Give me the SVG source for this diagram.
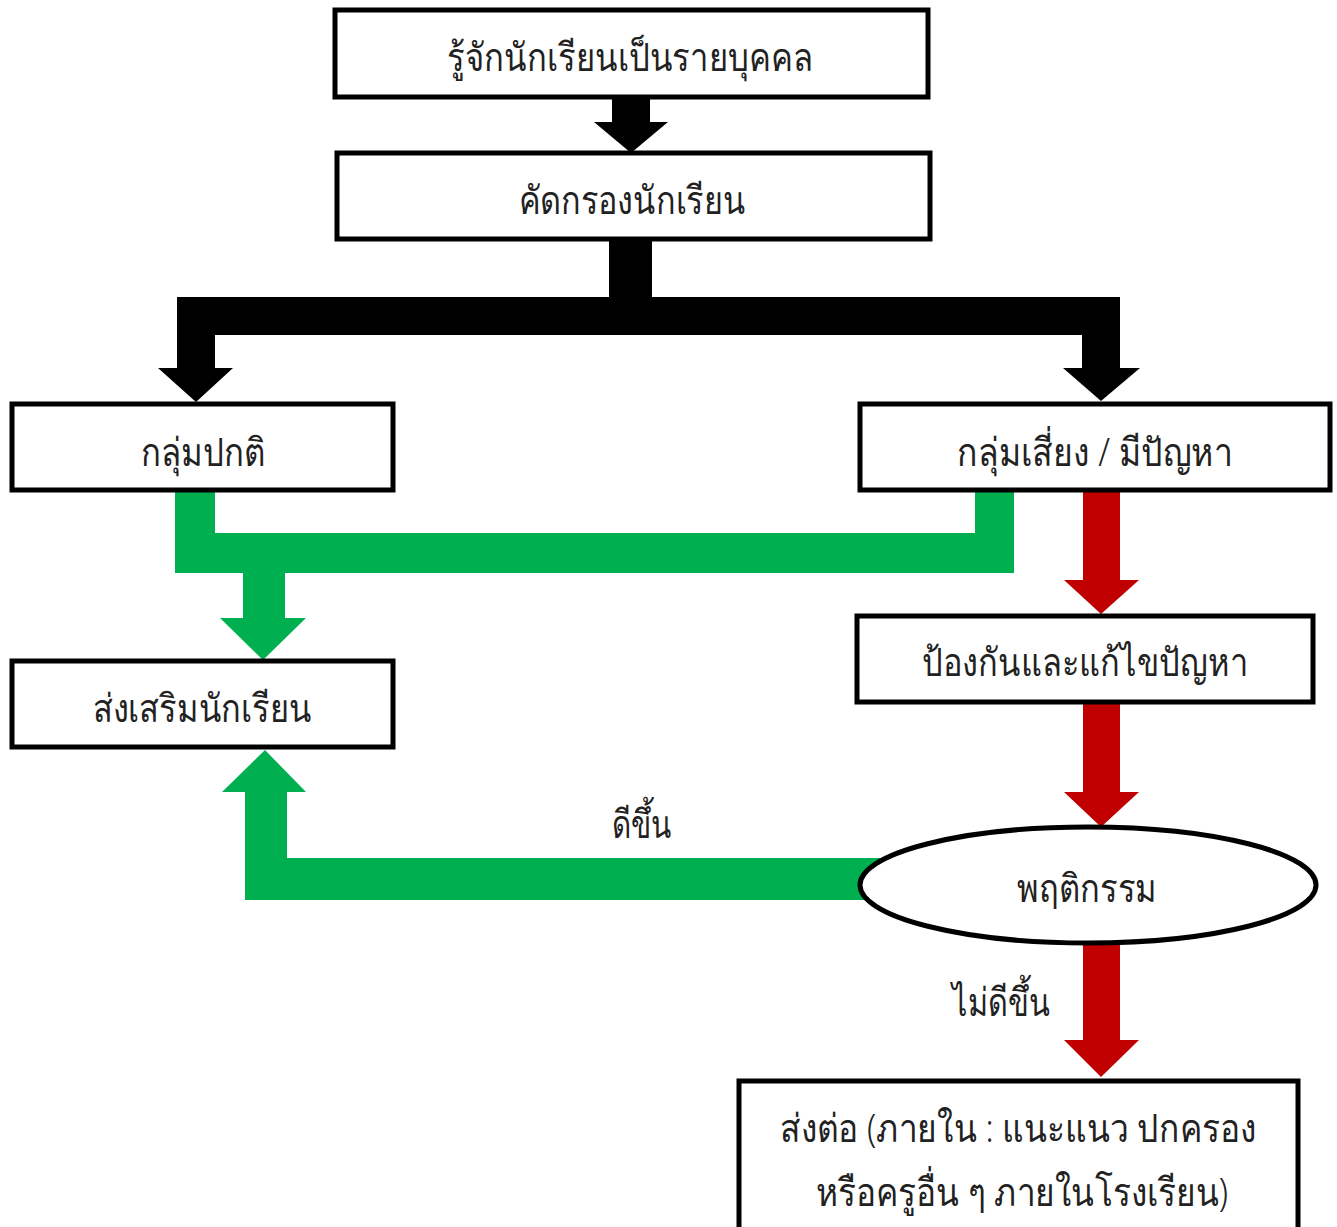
<svg xmlns="http://www.w3.org/2000/svg" width="1337" height="1227" viewBox="0 0 1337 1227">
<style>
.box{fill:#fff;stroke:#000;stroke-width:5}
.t{font-family:"Noto Sans","DejaVu Sans",sans-serif;font-size:39px;font-weight:300;fill:#222;text-anchor:middle;dominant-baseline:central}
.blk{fill:#000}
.grn{fill:#00B050}
.red{fill:#C00000}
</style>
<rect width="1337" height="1227" fill="#fff"/>
<g id="connectors">
<path class="blk" d="M612 97 H650 V122 H668 L631 153 L594 122 H612 Z"/>
<path class="blk" d="M609 239 H652 V297 H1120 V368 H1140 L1101 401 L1063 368 H1082 V335 H215 V368 H233 L196 402 L158 368 H177 V297 H609 Z"/>
<path class="grn" d="M175 490 H215 V533 H975 V490 H1014 V573 H285 V618 H306 L263 660 L220 618 H243 V573 H175 Z"/>
<path class="red" d="M1083 490 H1120 V580 H1139 L1101 614 L1064 580 H1083 Z"/>
<path class="red" d="M1083 702 H1120 V792 H1139 L1101 827 L1064 792 H1083 Z"/>
<path class="red" d="M1083 943 H1120 V1040 H1139 L1101 1077 L1064 1040 H1083 Z"/>
<path class="grn" d="M880 858 V900 H245 V792 H222 L265 750 L306 792 H287 V858 Z"/>
<text class="t" x="642" y="822" textLength="60" lengthAdjust="spacingAndGlyphs">ดีขึ้น</text>
<text class="t" x="1001" y="1000" textLength="98" lengthAdjust="spacingAndGlyphs">ไม่ดีขึ้น</text>
</g>
<g id="n1"><rect class="box" x="335" y="10" width="593" height="87"/><text class="t" x="630" y="55" textLength="366" lengthAdjust="spacingAndGlyphs">รู้จักนักเรียนเป็นรายบุคคล</text></g>
<g id="n2"><rect class="box" x="337" y="153" width="593" height="86"/><text class="t" x="632" y="198" textLength="227" lengthAdjust="spacingAndGlyphs">คัดกรองนักเรียน</text></g>
<g id="n3"><rect class="box" x="12" y="404" width="381" height="86"/><text class="t" x="203" y="450" textLength="125" lengthAdjust="spacingAndGlyphs">กลุ่มปกติ</text></g>
<g id="n4"><rect class="box" x="860" y="404" width="470" height="86"/><text class="t" x="1095" y="450" textLength="276" lengthAdjust="spacingAndGlyphs">กลุ่มเสี่ยง / มีปัญหา</text></g>
<g id="n5"><rect class="box" x="12" y="661" width="381" height="86"/><text class="t" x="202" y="706" textLength="219" lengthAdjust="spacingAndGlyphs">ส่งเสริมนักเรียน</text></g>
<g id="n6"><rect class="box" x="857" y="616" width="456" height="86"/><text class="t" x="1085" y="660" textLength="326" lengthAdjust="spacingAndGlyphs">ป้องกันและแก้ไขปัญหา</text></g>
<g id="n7"><ellipse class="box" cx="1088" cy="885" rx="228" ry="58"/><text class="t" x="1087" y="886" textLength="140" lengthAdjust="spacingAndGlyphs">พฤติกรรม</text></g>
<g id="n8"><rect class="box" x="739" y="1081" width="559" height="160"/><text class="t" x="1018" y="1126" textLength="476" lengthAdjust="spacingAndGlyphs">ส่งต่อ (ภายใน : แนะแนว ปกครอง</text><text class="t" x="1022" y="1190" textLength="412" lengthAdjust="spacingAndGlyphs">หรือครูอื่น ๆ ภายในโรงเรียน)</text></g>
</svg>
